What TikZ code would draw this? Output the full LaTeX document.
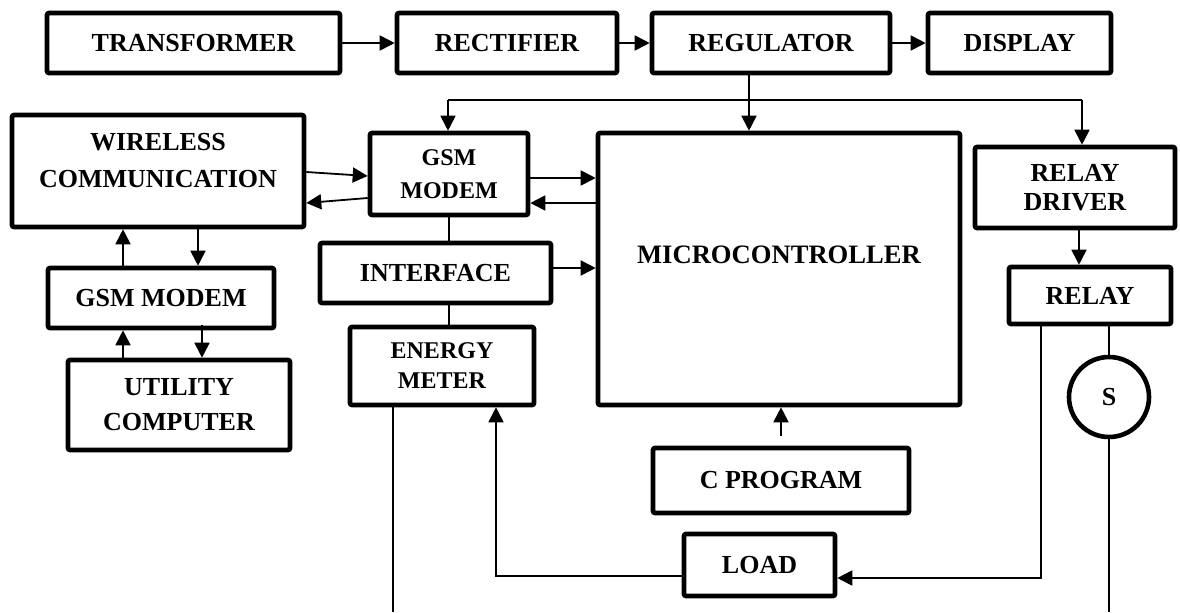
\documentclass[tikz,border=0pt]{standalone}
\usepackage{fontspec}
\setmainfont{Liberation Serif}
\usetikzlibrary{arrows.meta}
\begin{document}
\begin{tikzpicture}[x=0.5pt,y=-0.5pt,
  bx/.style n args={4}{minimum width={(#3-#1)*0.5pt}, minimum height={(#4-#2)*0.5pt},
    at={({(#1+#3)/2},{(#2+#4)/2})}},
  box/.style={draw, line width=2.3pt, rounded corners=1pt, inner sep=0pt, align=center,
    font=\bfseries\fontsize{13}{17}\selectfont},
  txt/.style={inner sep=0pt, align=center, font=\bfseries\fontsize{13}{18.5}\selectfont},
  conn/.style={line width=0.9pt},
  arr/.style={conn, -{Triangle[length=7.5pt,width=7.5pt]}}]
\useasboundingbox (0,0) rectangle (1180,612);

% top row
\node[box, bx={47}{13}{340}{73}] (tr) {TRANSFORMER};
\node[box, bx={397}{13}{617}{73}] (rect) {RECTIFIER};
\node[box, bx={652}{13}{890}{73}] (reg) {REGULATOR};
\node[box, bx={928}{13}{1111}{73}] (disp) {DISPLAY};

% middle
\node[box, bx={12}{115}{304}{227}] (wc) {};
\node[txt] (wctxt) at (158,161) {WIRELESS\\COMMUNICATION};
\node[box, bx={370}{133}{528}{215}, font=\bfseries\fontsize{12}{16.5}\selectfont] (gsm1) {GSM\\MODEM};
\node[box, bx={598}{133}{960}{405}] (mcu) {};
\node[txt, font=\bfseries\fontsize{13.3}{16}\selectfont] (mcutxt) at (779,255) {MICROCONTROLLER};
\node[box, bx={975}{147}{1175}{228}, font=\bfseries\fontsize{13}{14.5}\selectfont] (rd) {RELAY\\DRIVER};
\node[box, bx={48}{268}{274}{328}] (gsm2) {GSM MODEM};
\node[box, bx={68}{360}{290}{450}, font=\bfseries\fontsize{13}{17.5}\selectfont] (util) {UTILITY\\COMPUTER};
\node[box, bx={320}{243}{551}{303}] (intf) {INTERFACE};
\node[box, bx={350}{327}{534}{405}, font=\bfseries\fontsize{12}{15}\selectfont] (em) {ENERGY\\METER};
\node[box, bx={1009}{267}{1171}{324}] (relay) {RELAY};
\node[draw, circle, line width=2.3pt, minimum size=40pt, inner sep=0pt,
  font=\bfseries\fontsize{13}{16}\selectfont] (s) at (1109,397) {S};
\node[box, bx={653}{448}{909}{513}] (cprog) {C PROGRAM};
\node[box, bx={684}{534}{835}{596}] (load) {LOAD};

% coordinates
\coordinate (j1) at (749,100);
\coordinate (bl) at (448,100);
\coordinate (br) at (1082,100);
\coordinate (sb) at (1109,612);
\coordinate (emb) at (393,612);

% top chain
\draw[arr] (tr) -- (rect);
\draw[arr] (rect) -- (reg);
\draw[arr] (reg) -- (disp);

% supply bus
\draw[arr] (reg.south -| j1) -- (mcu.north -| j1);
\draw[conn] (bl) -- (br);
\draw[arr] (bl) -- (gsm1.north -| bl);
\draw[arr] (br) -- (rd.north -| br);

% wireless <-> gsm modem
\draw[arr] ([yshift=-0.5pt]wc.east) -- ([yshift=-1pt]gsm1.west);
\draw[arr] ([yshift=-12pt]gsm1.west) -- ([yshift=-16pt]wc.east);

% gsm modem <-> mcu
\draw[arr] ([yshift=-2pt]gsm1.east) -- ([yshift=-2pt]gsm1.east -| mcu.west);
\draw[arr] ([yshift=-14.5pt]gsm1.east -| mcu.west) -- ([yshift=-14.5pt]gsm1.east);

% gsm modem - interface - energy meter
\draw[conn] (gsm1.south) -- (gsm1.south |- intf.north);
\draw[conn] (gsm1.south |- intf.south) -- (gsm1.south |- em.north);
\draw[arr] ([yshift=2.5pt]intf.east) -- ([yshift=2.5pt]intf.east -| mcu.west);

% wireless <-> gsm modem (left) <-> utility computer
\draw[arr] ([xshift=-19pt]gsm2.north) -- ([xshift=-19pt]gsm2.north |- wc.south);
\draw[arr] ([xshift=18.5pt]gsm2.north |- wc.south) -- ([xshift=18.5pt]gsm2.north);
\draw[arr] ([xshift=-19pt]gsm2.south |- util.north) -- ([xshift=-19pt]gsm2.south);
\draw[arr] ([xshift=20.5pt,yshift=2.5pt]gsm2.south) -- ([xshift=20.5pt]gsm2.south |- util.north);

% relay side
\draw[arr] ([xshift=2pt]rd.south) -- ([xshift=2pt]rd.south |- relay.north);
\draw[conn] (relay.south -| s.north) -- (s.north);
\draw[conn] (s.south) -- (sb);
\draw[arr] ([xshift=-24.5pt]relay.south) |- ([yshift=-6.5pt]load.east);

% load -> energy meter
\draw[arr] ([yshift=-5.5pt]load.west) -| ([xshift=27pt]em.south);
\draw[conn] ([xshift=-24.5pt]em.south) -- (emb);

% c program -> mcu
\draw[arr] ([yshift=5pt]cprog.north) -- (cprog.north |- mcu.south);
\end{tikzpicture}
\end{document}
